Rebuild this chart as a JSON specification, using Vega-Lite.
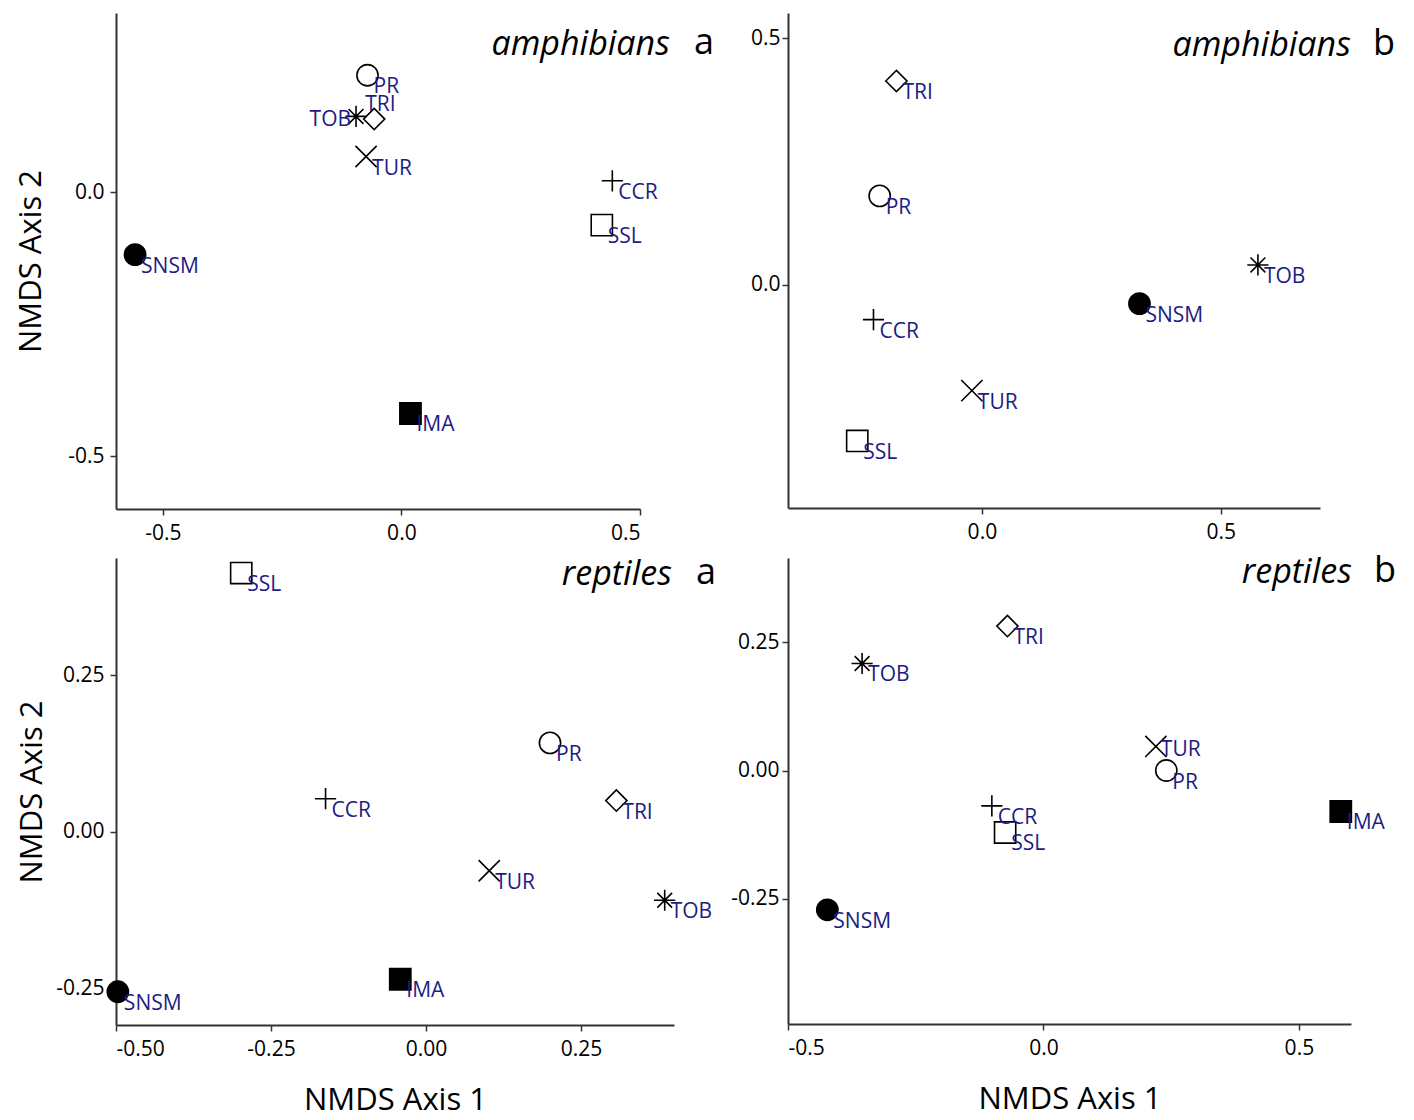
{
  "$schema": "https://vega.github.io/schema/vega-lite/v6.json",
  "padding": {"left": 15, "top": 13, "right": 0, "bottom": 0},
  "background": "white",
  "columns": 2,
  "bounds": "flush",
  "align": "each",
  "spacing": {"row": 49, "column": 114},
  "datasets": {
    "pts": [
      {"panel": "A", "site": "PR", "x": -0.071, "y": 0.222},
      {"panel": "A", "site": "TRI", "x": -0.057, "y": 0.139},
      {"panel": "A", "site": "TOB", "x": -0.095, "y": 0.144},
      {"panel": "A", "site": "TUR", "x": -0.074, "y": 0.068},
      {"panel": "A", "site": "CCR", "x": 0.442, "y": 0.022},
      {"panel": "A", "site": "SSL", "x": 0.420, "y": -0.062},
      {"panel": "A", "site": "SNSM", "x": -0.558, "y": -0.118},
      {"panel": "A", "site": "IMA", "x": 0.019, "y": -0.419},
      {"panel": "B", "site": "TRI", "x": -0.179, "y": 0.413},
      {"panel": "B", "site": "PR", "x": -0.214, "y": 0.180},
      {"panel": "B", "site": "TOB", "x": 0.578, "y": 0.040},
      {"panel": "B", "site": "SNSM", "x": 0.330, "y": -0.0385},
      {"panel": "B", "site": "CCR", "x": -0.227, "y": -0.071},
      {"panel": "B", "site": "TUR", "x": -0.021, "y": -0.215},
      {"panel": "B", "site": "SSL", "x": -0.261, "y": -0.317},
      {"panel": "C", "site": "SSL", "x": -0.298, "y": 0.413},
      {"panel": "C", "site": "PR", "x": 0.200, "y": 0.142},
      {"panel": "C", "site": "CCR", "x": -0.162, "y": 0.053},
      {"panel": "C", "site": "TRI", "x": 0.307, "y": 0.050},
      {"panel": "C", "site": "TUR", "x": 0.102, "y": -0.062},
      {"panel": "C", "site": "TOB", "x": 0.385, "y": -0.109},
      {"panel": "C", "site": "IMA", "x": -0.0415, "y": -0.235},
      {"panel": "C", "site": "SNSM", "x": -0.497, "y": -0.255},
      {"panel": "D", "site": "TRI", "x": -0.0705, "y": 0.282},
      {"panel": "D", "site": "TOB", "x": -0.355, "y": 0.209},
      {"panel": "D", "site": "TUR", "x": 0.220, "y": 0.047},
      {"panel": "D", "site": "PR", "x": 0.2405, "y": 0.000},
      {"panel": "D", "site": "CCR", "x": -0.101, "y": -0.069},
      {"panel": "D", "site": "SSL", "x": -0.075, "y": -0.121},
      {"panel": "D", "site": "IMA", "x": 0.582, "y": -0.080},
      {"panel": "D", "site": "SNSM", "x": -0.423, "y": -0.272}
    ]
  },
  "concat": [
    {
      "width": 524, "height": 496,
      "title": {"text": "amphibians\u00a0\u00a0\u00a0\u00a0\u00a0\u200b", "subtitle": "a", "anchor": "end", "frame": "group", "dx": 74, "offset": -52, "subtitlePadding": -36},
      "data": {"name": "pts"},
      "transform": [{"filter": "datum.panel == 'A'"}],
      "encoding": {
        "x": {"field": "x", "type": "quantitative", "scale": {"domain": [-0.598, 0.5], "nice": false, "zero": false},
              "axis": {"values": [-0.5, 0, 0.5], "labelExpr": "replace(format(datum.value, '.1f'), '\u2212', '-')", "title": null, "labelPadding": 7}},
        "y": {"field": "y", "type": "quantitative", "scale": {"domain": [-0.6, 0.34], "nice": false, "zero": false},
              "axis": {"values": [-0.5, 0], "labelExpr": "replace(format(datum.value, '.1f'), '\u2212', '-')", "title": "NMDS Axis 2", "labelPadding": 6, "titlePadding": 20}}
      },
      "layer": [
        {"mark": {"type": "point", "filled": false, "size": 450, "strokeWidth": 1.6, "opacity": 1},
         "encoding": {
           "shape": {"field": "site", "type": "nominal", "legend": null,
                     "scale": {"domain": ["PR", "TRI", "TOB", "TUR", "CCR", "SSL", "SNSM", "IMA"],
                               "range": ["circle", "diamond", "M-1,0L1,0M0,-1L0,1M-0.7,-0.7L0.7,0.7M-0.7,0.7L0.7,-0.7", "M-1,-1L1,1M-1,1L1,-1", "M-1,0L1,0M0,-1L0,1", "square", "circle", "square"]}},
           "stroke": {"value": "black"},
           "fill": {"condition": {"test": "datum.site == 'SNSM' || datum.site == 'IMA'", "value": "black"}, "value": "transparent"}
         }},
        {"transform": [{"filter": "datum.site != 'TOB' && datum.site != 'TRI'"}],
         "mark": {"type": "text", "align": "left", "baseline": "alphabetic", "dx": 6, "dy": 18, "font": "Open Sans", "fontSize": 21, "fill": "#1c1c84"},
         "encoding": {"text": {"field": "site"}}},
        {"transform": [{"filter": "datum.site == 'TOB'"}],
         "mark": {"type": "text", "align": "right", "baseline": "alphabetic", "dx": -5, "dy": 10, "font": "Open Sans", "fontSize": 21, "fill": "#1c1c84"},
         "encoding": {"text": {"field": "site"}}},
        {"transform": [{"filter": "datum.site == 'TRI'"}],
         "mark": {"type": "text", "align": "left", "baseline": "alphabetic", "dx": -9, "dy": -8, "font": "Open Sans", "fontSize": 21, "fill": "#1c1c84"},
         "encoding": {"text": {"field": "site"}}}
      ]
    },
    {
      "width": 532, "height": 495,
      "title": {"text": "amphibians\u00a0\u00a0\u00a0\u00a0\u00a0\u200b", "subtitle": "b", "anchor": "end", "frame": "group", "dx": 75, "offset": -53, "subtitlePadding": -36},
      "data": {"name": "pts"},
      "transform": [{"filter": "datum.panel == 'B'"}],
      "encoding": {
        "x": {"field": "x", "type": "quantitative", "scale": {"domain": [-0.406, 0.708], "nice": false, "zero": false},
              "axis": {"values": [0, 0.5], "labelExpr": "replace(format(datum.value, '.1f'), '\u2212', '-')", "title": null, "labelPadding": 7}},
        "y": {"field": "y", "type": "quantitative", "scale": {"domain": [-0.453, 0.551], "nice": false, "zero": false},
              "axis": {"values": [0, 0.5], "labelExpr": "replace(format(datum.value, '.1f'), '\u2212', '-')", "title": null, "labelPadding": 2}}
      },
      "layer": [
        {"mark": {"type": "point", "filled": false, "size": 450, "strokeWidth": 1.6, "opacity": 1},
         "encoding": {
           "shape": {"field": "site", "type": "nominal", "legend": null,
                     "scale": {"domain": ["PR", "TRI", "TOB", "TUR", "CCR", "SSL", "SNSM", "IMA"],
                               "range": ["circle", "diamond", "M-1,0L1,0M0,-1L0,1M-0.7,-0.7L0.7,0.7M-0.7,0.7L0.7,-0.7", "M-1,-1L1,1M-1,1L1,-1", "M-1,0L1,0M0,-1L0,1", "square", "circle", "square"]}},
           "stroke": {"value": "black"},
           "fill": {"condition": {"test": "datum.site == 'SNSM' || datum.site == 'IMA'", "value": "black"}, "value": "transparent"}
         }},
        {"mark": {"type": "text", "align": "left", "baseline": "alphabetic", "dx": 6, "dy": 18, "font": "Open Sans", "fontSize": 21, "fill": "#1c1c84"},
         "encoding": {"text": {"field": "site"}}}
      ]
    },
    {
      "width": 558, "height": 467,
      "title": {"text": "reptiles\u00a0\u00a0\u00a0\u00a0\u00a0\u200b", "subtitle": "a", "anchor": "end", "frame": "group", "dx": 42, "offset": -37, "subtitlePadding": -36},
      "data": {"name": "pts"},
      "transform": [{"filter": "datum.panel == 'C'"}],
      "encoding": {
        "x": {"field": "x", "type": "quantitative", "scale": {"domain": [-0.5, 0.4], "nice": false, "zero": false},
              "axis": {"values": [-0.5, -0.25, 0, 0.25], "labelExpr": "replace(format(datum.value, '.2f'), '\u2212', '-')", "title": "NMDS Axis 1", "labelPadding": 7, "titlePadding": 26}},
        "y": {"field": "y", "type": "quantitative", "scale": {"domain": [-0.308, 0.437], "nice": false, "zero": false},
              "axis": {"values": [-0.25, 0, 0.25], "labelExpr": "replace(format(datum.value, '.2f'), '\u2212', '-')", "title": "NMDS Axis 2", "labelPadding": 6, "titlePadding": 7}}
      },
      "layer": [
        {"mark": {"type": "point", "filled": false, "size": 450, "strokeWidth": 1.6, "opacity": 1},
         "encoding": {
           "shape": {"field": "site", "type": "nominal", "legend": null,
                     "scale": {"domain": ["PR", "TRI", "TOB", "TUR", "CCR", "SSL", "SNSM", "IMA"],
                               "range": ["circle", "diamond", "M-1,0L1,0M0,-1L0,1M-0.7,-0.7L0.7,0.7M-0.7,0.7L0.7,-0.7", "M-1,-1L1,1M-1,1L1,-1", "M-1,0L1,0M0,-1L0,1", "square", "circle", "square"]}},
           "stroke": {"value": "black"},
           "fill": {"condition": {"test": "datum.site == 'SNSM' || datum.site == 'IMA'", "value": "black"}, "value": "transparent"}
         }},
        {"mark": {"type": "text", "align": "left", "baseline": "alphabetic", "dx": 6, "dy": 18, "font": "Open Sans", "fontSize": 21, "fill": "#1c1c84"},
         "encoding": {"text": {"field": "site"}}}
      ]
    },
    {
      "width": 563, "height": 466,
      "title": {"text": "reptiles\u00a0\u00a0\u00a0\u00a0\u00a0\u200b", "subtitle": "b", "anchor": "end", "frame": "group", "dx": 45, "offset": -35, "subtitlePadding": -36},
      "data": {"name": "pts"},
      "transform": [{"filter": "datum.panel == 'D'"}],
      "encoding": {
        "x": {"field": "x", "type": "quantitative", "scale": {"domain": [-0.5, 0.602], "nice": false, "zero": false},
              "axis": {"values": [-0.5, 0, 0.5], "labelExpr": "replace(format(datum.value, '.1f'), '\u2212', '-')", "title": "NMDS Axis 1", "labelPadding": 7, "titlePadding": 26}},
        "y": {"field": "y", "type": "quantitative", "scale": {"domain": [-0.495, 0.415], "nice": false, "zero": false},
              "axis": {"values": [-0.25, 0, 0.25], "labelExpr": "replace(format(datum.value, '.2f'), '\u2212', '-')", "title": null, "labelPadding": 3}}
      },
      "layer": [
        {"mark": {"type": "point", "filled": false, "size": 450, "strokeWidth": 1.6, "opacity": 1},
         "encoding": {
           "shape": {"field": "site", "type": "nominal", "legend": null,
                     "scale": {"domain": ["PR", "TRI", "TOB", "TUR", "CCR", "SSL", "SNSM", "IMA"],
                               "range": ["circle", "diamond", "M-1,0L1,0M0,-1L0,1M-0.7,-0.7L0.7,0.7M-0.7,0.7L0.7,-0.7", "M-1,-1L1,1M-1,1L1,-1", "M-1,0L1,0M0,-1L0,1", "square", "circle", "square"]}},
           "stroke": {"value": "black"},
           "fill": {"condition": {"test": "datum.site == 'SNSM' || datum.site == 'IMA'", "value": "black"}, "value": "transparent"}
         }},
        {"transform": [{"filter": "datum.site != 'TUR'"}],
         "mark": {"type": "text", "align": "left", "baseline": "alphabetic", "dx": 6, "dy": 18, "font": "Open Sans", "fontSize": 21, "fill": "#1c1c84"},
         "encoding": {"text": {"field": "site"}}},
        {"transform": [{"filter": "datum.site == 'TUR'"}],
         "mark": {"type": "text", "align": "left", "baseline": "alphabetic", "dx": 5, "dy": 10, "font": "Open Sans", "fontSize": 21, "fill": "#1c1c84"},
         "encoding": {"text": {"field": "site"}}}
      ]
    }
  ],
  "config": {
    "view": {"stroke": null},
    "axis": {
      "grid": false,
      "domainColor": "#333333", "domainWidth": 2,
      "tickColor": "#333333", "tickWidth": 1.5, "tickSize": 6,
      "labelFont": "Open Sans", "labelFontSize": 21, "labelColor": "black",
      "titleFont": "Open Sans", "titleFontSize": 31, "titleFontWeight": "normal", "titleColor": "black"
    },
    "title": {
      "font": "Open Sans", "fontSize": 34, "fontStyle": "italic", "fontWeight": "normal", "color": "black",
      "subtitleFont": "Open Sans", "subtitleFontSize": 36, "subtitleFontStyle": "normal", "subtitleFontWeight": "normal", "subtitleColor": "black"
    }
  }
}
